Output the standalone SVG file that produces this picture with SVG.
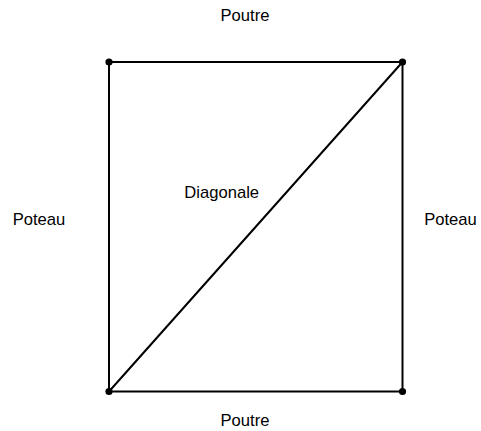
<svg xmlns="http://www.w3.org/2000/svg" width="481" height="431" viewBox="0 0 481 431">
<style>
.e{stroke:#000;stroke-width:2;fill:none;stroke-linecap:round}
.n{fill:#000}
.t{font-family:"Liberation Sans",Arial,sans-serif;font-size:16.6px;fill:#000;text-anchor:middle}
</style>
<rect width="481" height="431" fill="#fff"/>
<g id="connectors">
<line class="e" x1="109" y1="62" x2="402.5" y2="62"/>
<line class="e" x1="109" y1="391.5" x2="402.5" y2="391.5"/>
<line class="e" x1="109" y1="62" x2="109" y2="391.5"/>
<line class="e" x1="402.5" y1="62" x2="402.5" y2="391.5"/>
<line class="e" x1="109" y1="391.5" x2="402.5" y2="62"/>
</g>
<g id="n1"><circle class="n" cx="109" cy="62" r="3.6"/></g>
<g id="n2"><circle class="n" cx="402.5" cy="62" r="3.6"/></g>
<g id="n3"><circle class="n" cx="109" cy="391.5" r="3.6"/></g>
<g id="n4"><circle class="n" cx="402.5" cy="391.5" r="3.6"/></g>
<g id="labels">
<text class="t" x="245" y="20.5">Poutre</text>
<text class="t" x="245" y="425.5">Poutre</text>
<text class="t" x="39" y="225">Poteau</text>
<text class="t" x="450.5" y="225">Poteau</text>
<text class="t" x="221.7" y="198">Diagonale</text>
</g>
</svg>
